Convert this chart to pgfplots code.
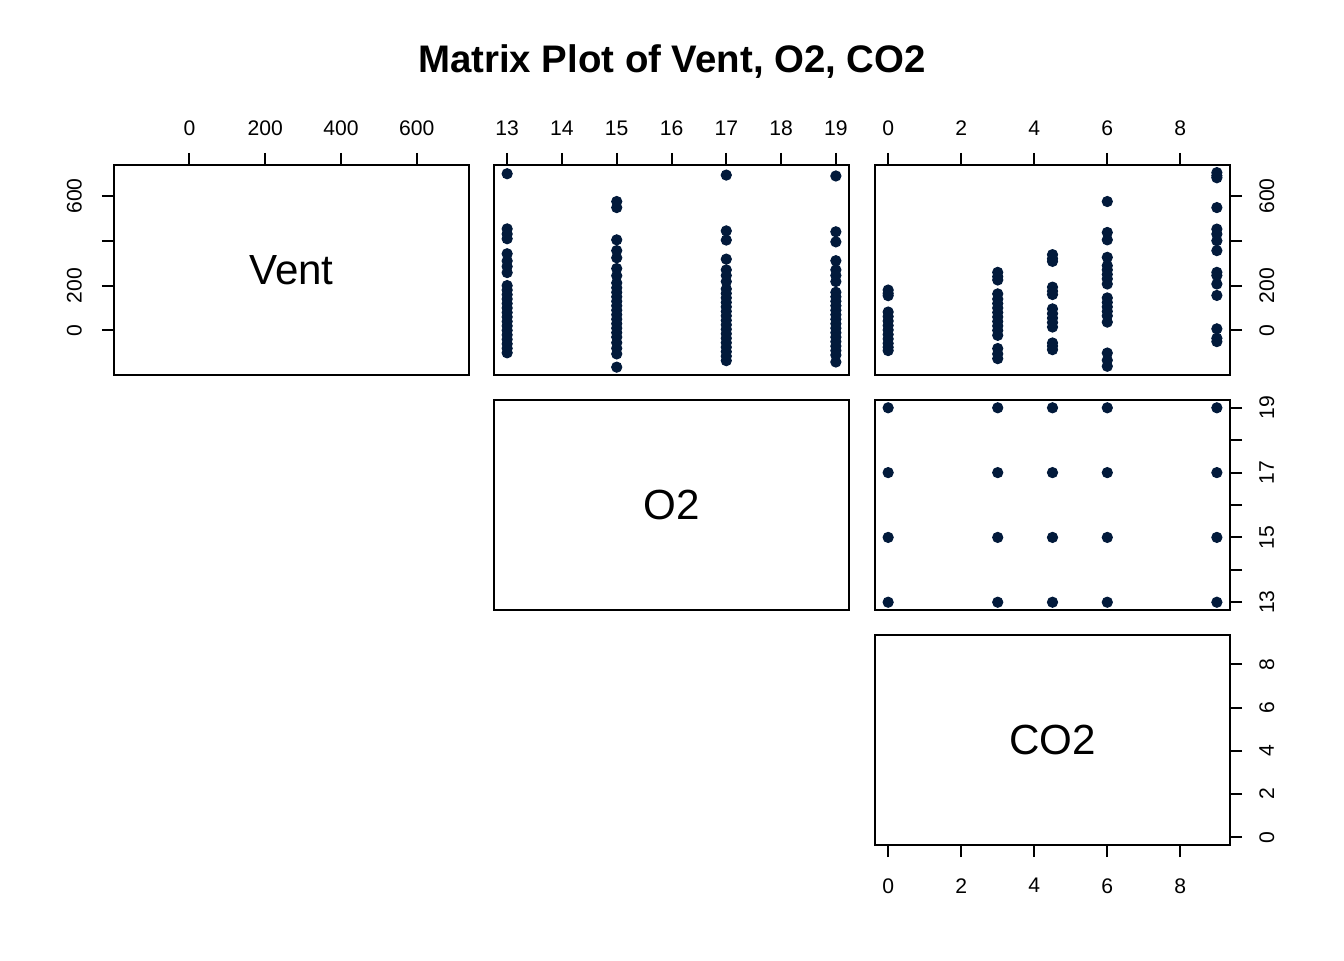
\documentclass[border=0pt]{standalone}
\usepackage{fontspec}
\setmainfont{Liberation Sans}
\usepackage{pgfplots}
\pgfplotsset{compat=1.18}
\definecolor{dotc}{HTML}{021A3B}
\pgfplotsset{
  panel/.style={
    scale only axis, width=133.125pt, height=78.75pt, anchor=south west,
    axis line style={line width=0.75pt, black},
    every tick/.style={line width=0.75pt, black},
    tick align=outside, major tick length=4.5pt,
    xtick=\empty, ytick=\empty,
    ticklabel style={font=\fontsize{7.92}{9}\selectfont, black},
    clip=false,
  },
  dots/.style={only marks, mark=*, mark size=1.9pt, color=dotc, mark options={fill=dotc, draw=dotc}},
  ventx/.style={xmin=-199, xmax=738},
  venty/.style={ymin=-199, ymax=738},
  o2x/.style={xmin=12.76, xmax=19.24},
  o2y/.style={ymin=12.76, ymax=19.24},
  co2x/.style={xmin=-0.36, xmax=9.36},
  co2y/.style={ymin=-0.36, ymax=9.36},
  leftlab/.style={ytick pos=left, yticklabel pos=left, yticklabel shift=4pt, yticklabel style={rotate=90, anchor=south}},
  rightlab/.style={ytick pos=right, yticklabel pos=right, yticklabel shift=3pt, yticklabel style={rotate=90, anchor=north}},
  toplab/.style={xtick pos=right, xticklabel pos=right, xticklabel shift=3pt},
  botlab/.style={xtick pos=left, xticklabel pos=left, xticklabel shift=4.5pt},
}
\begin{document}
\begin{tikzpicture}
\useasboundingbox (0,0) rectangle (504pt,360pt);
\node[anchor=base, font=\bfseries\fontsize{14.4}{17}\selectfont] at (252pt,333pt) {Matrix Plot of Vent, O2, CO2};

% Row 1, Col 1: Vent diagonal
\begin{axis}[panel, at={(42.75pt,219.375pt)}, ventx, venty, toplab, leftlab,
  xtick={0,200,400,600}, xticklabels={0,200,400,600},
  ytick={0,200,400,600}, yticklabels={0,200,{},600}]
  \node[font=\fontsize{15.8}{18}\selectfont] at (rel axis cs:0.5,0.5) {Vent};
\end{axis}

% Row 1, Col 2: Vent vs O2
\begin{axis}[panel, at={(185.25pt,219.375pt)}, o2x, venty, toplab,
  xtick={13,14,15,16,17,18,19}, xticklabels={13,14,15,16,17,18,19}]
\addplot[dots] coordinates {
(13,699) (13,453) (13,430) (13,409) (13,342) (13,310) (13,285) (13,258) (13,200) (13,180)
(13,160) (13,140) (13,120) (13,100) (13,80) (13,60) (13,40) (13,20) (13,0) (13,-20)
(13,-40) (13,-60) (13,-80) (13,-100)
(15,575) (15,548) (15,404) (15,356) (15,324) (15,276) (15,244) (15,212)
(15,190) (15,170) (15,150) (15,130) (15,110) (15,90) (15,70) (15,50) (15,30) (15,10)
(15,-10) (15,-30) (15,-55) (15,-80) (15,-105) (15,-164)
(17,693) (17,444) (17,403) (17,318) (17,270) (17,245) (17,218) (17,185) (17,165) (17,145)
(17,125) (17,105) (17,85) (17,65) (17,45) (17,25) (17,5) (17,-15) (17,-35) (17,-55)
(17,-75) (17,-95) (17,-115) (17,-135)
(19,689) (19,440) (19,395) (19,311) (19,270) (19,245) (19,218) (19,170) (19,150) (19,130)
(19,110) (19,90) (19,70) (19,50) (19,30) (19,10) (19,-10) (19,-30) (19,-50) (19,-70)
(19,-90) (19,-110) (19,-141)
};
\end{axis}

% Row 1, Col 3: Vent vs CO2
\begin{axis}[panel, at={(328.125pt,219.375pt)}, co2x, venty, toplab, rightlab,
  xtick={0,2,4,6,8}, xticklabels={0,2,4,6,8},
  ytick={0,200,400,600}, yticklabels={0,200,{},600}]
\addplot[dots] coordinates {
(0,180) (0,165) (0,155) (0,82) (0,62) (0,42) (0,22) (0,2) (0,-18) (0,-38) (0,-58) (0,-75) (0,-90)
(3,259) (3,240) (3,225) (3,163) (3,140) (3,120) (3,100) (3,80) (3,60) (3,40) (3,20) (3,0)
(3,-22) (3,-81) (3,-105) (3,-126)
(4.5,338) (4.5,320) (4.5,308) (4.5,193) (4.5,175) (4.5,160) (4.5,96) (4.5,75) (4.5,55)
(4.5,35) (4.5,15) (4.5,-56) (4.5,-70) (4.5,-86)
(6,575) (6,437) (6,404) (6,326) (6,289) (6,270) (6,250) (6,230) (6,207) (6,145) (6,125)
(6,105) (6,85) (6,65) (6,37) (6,-101) (6,-133) (6,-160)
(9,704) (9,690) (9,681) (9,548) (9,452) (9,430) (9,400) (9,356) (9,259) (9,245) (9,207)
(9,156) (9,7) (9,-35) (9,-50)
};
\end{axis}

% Row 2, Col 2: O2 diagonal
\begin{axis}[panel, at={(185.25pt,131.25pt)}, o2x, o2y]
  \node[font=\fontsize{15.8}{18}\selectfont] at (rel axis cs:0.5,0.5) {O2};
\end{axis}

% Row 2, Col 3: O2 vs CO2
\begin{axis}[panel, at={(328.125pt,131.25pt)}, co2x, o2y, rightlab,
  ytick={13,14,15,16,17,18,19}, yticklabels={13,{},15,{},17,{},19}]
\addplot[dots] coordinates {
(0,13) (0,15) (0,17) (0,19)
(3,13) (3,15) (3,17) (3,19)
(4.5,13) (4.5,15) (4.5,17) (4.5,19)
(6,13) (6,15) (6,17) (6,19)
(9,13) (9,15) (9,17) (9,19)
};
\end{axis}

% Row 3, Col 3: CO2 diagonal
\begin{axis}[panel, at={(328.125pt,43.125pt)}, co2x, co2y, rightlab, botlab,
  xtick={0,2,4,6,8}, xticklabels={0,2,4,6,8},
  ytick={0,2,4,6,8}, yticklabels={0,2,4,6,8}]
  \node[font=\fontsize{15.8}{18}\selectfont] at (rel axis cs:0.5,0.5) {CO2};
\end{axis}
\end{tikzpicture}
\end{document}
